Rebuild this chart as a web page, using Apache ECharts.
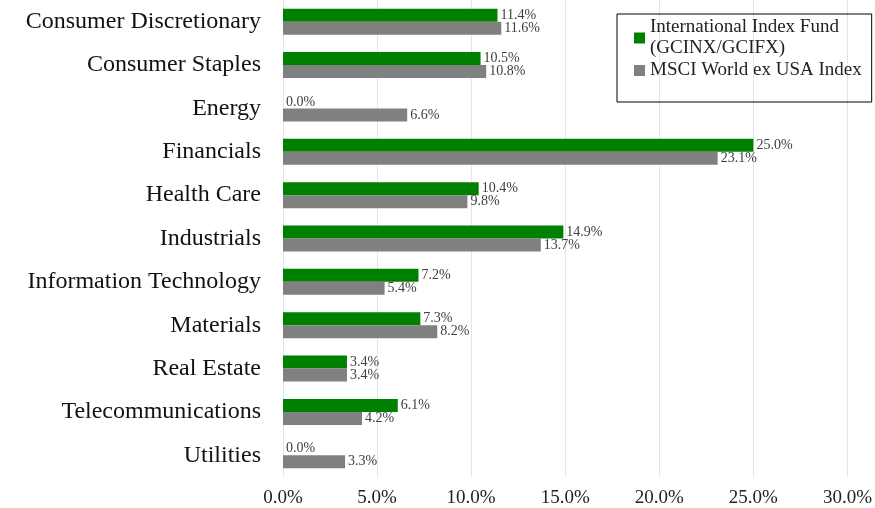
<!DOCTYPE html>
<html>
<head>
<meta charset="utf-8">
<script src="https://cdn.jsdelivr.net/npm/echarts@6/dist/echarts.min.js"></script>
<style>
  html, body { margin: 0; padding: 0; background: #fff; }
  #chart { width: 875px; height: 508px; }
</style>
</head>
<body>
<div id="chart"></div>
<script>
const sectors = ['Consumer Discretionary', 'Consumer Staples', 'Energy', 'Financials', 'Health Care',
  'Industrials', 'Information Technology', 'Materials', 'Real Estate', 'Telecommunications', 'Utilities']
const fundValues = [11.4, 10.5, 0.0, 25.0, 10.4, 14.9, 7.2, 7.3, 3.4, 6.1, 0.0]
const indexValues = [11.6, 10.8, 6.6, 23.1, 9.8, 13.7, 5.4, 8.2, 3.4, 4.2, 3.3]
const fundName = 'International Index Fund (GCINX/GCIFX)'
const indexName = 'MSCI World ex USA Index'

const serif = 'Liberation Serif'
const chart = echarts.init(document.getElementById('chart'))

const barLabel = {
  show: true,
  position: 'right',
  distance: 3,
  fontFamily: serif,
  fontSize: 14,
  color: '#404040',
  formatter: p => p.value.toFixed(1) + '%'
}

const option = {
  animation: false,
  textStyle: { fontFamily: serif },
  grid: { left: 283, right: 27, top: 0, bottom: 31, containLabel: false },
  legend: {
    orient: 'vertical',
    left: 617,
    top: 14,
    itemWidth: 11,
    itemHeight: 11,
    itemGap: 1,
    padding: [3, 10, 21, 17],
    borderColor: '#000',
    borderWidth: 1,
    icon: 'rect',
    textStyle: { fontFamily: serif, fontSize: 19, color: '#222', lineHeight: 21 },
    formatter: name => name === fundName ? 'International Index Fund\n(GCINX/GCIFX)' : name,
    data: [fundName, indexName]
  },
  xAxis: {
    type: 'value',
    min: 0,
    max: 30,
    interval: 5,
    axisLine: { show: false },
    axisTick: { show: false },
    splitLine: { lineStyle: { color: '#e2e5ec' } },
    axisLabel: {
      fontFamily: serif,
      fontSize: 19,
      color: '#222',
      margin: 12,
      formatter: v => v.toFixed(1) + '%'
    }
  },
  yAxis: {
    type: 'category',
    inverse: true,
    data: sectors,
    axisLine: { show: true, lineStyle: { color: '#e2e5ec' } },
    axisTick: { show: false },
    axisLabel: { fontFamily: serif, fontSize: 24, color: '#111', margin: 22 }
  },
  series: [
    {
      name: fundName,
      type: 'bar',
      data: fundValues,
      barWidth: 13,
      barGap: '0%',
      itemStyle: { color: '#008000' },
      label: barLabel
    },
    {
      name: indexName,
      type: 'bar',
      data: indexValues,
      barWidth: 13,
      barGap: '0%',
      itemStyle: { color: '#808080' },
      label: barLabel
    }
  ]
}
chart.setOption(option)
</script>
</body>
</html>
